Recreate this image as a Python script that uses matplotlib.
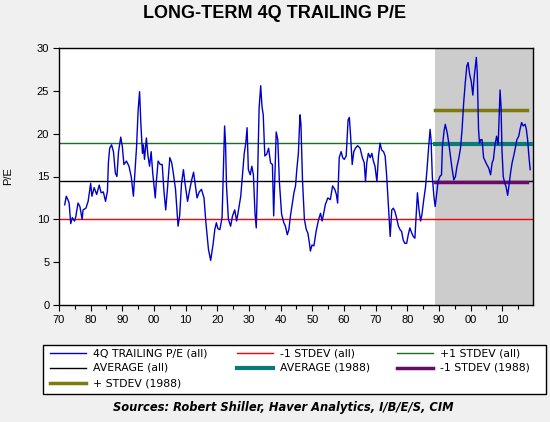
import matplotlib
matplotlib.use("Agg")
import matplotlib.pyplot as plt
from matplotlib.lines import Line2D
from matplotlib.patches import Rectangle
from matplotlib.ticker import MultipleLocator, FuncFormatter

plt.rcParams['font.family'] = ['Liberation Sans', 'DejaVu Sans']

# 4Q trailing P/E
years = [1871.8, 1872.3, 1872.8, 1873.2, 1873.7, 1874.2, 1874.9, 1875.3, 1876.0, 1876.6,
         1877.3, 1877.6, 1878.5, 1879.2, 1880.0, 1880.4, 1881.1, 1881.9, 1882.7, 1883.3,
         1884.0, 1884.7, 1885.3, 1885.6, 1886.0, 1886.6, 1887.2, 1887.8, 1888.3, 1888.8,
         1889.5, 1890.0, 1890.5, 1891.3, 1892.1, 1892.8, 1893.5, 1893.9, 1894.5, 1895.0,
         1895.45, 1895.85, 1896.35, 1896.65, 1897.0, 1897.6, 1898.1, 1898.6, 1899.1, 1899.6,
         1900.4, 1900.7, 1901.3, 1902.0, 1902.6, 1903.1, 1903.7, 1904.3, 1905.0, 1905.6,
         1906.1, 1906.8, 1907.6, 1908.1, 1908.7, 1909.3, 1909.8, 1910.6, 1911.3, 1911.9,
         1912.5, 1913.0, 1913.6, 1914.3, 1915.0, 1915.8, 1916.4, 1917.2, 1917.9, 1918.7,
         1919.2, 1919.7, 1920.2, 1920.8, 1921.5, 1922.3, 1922.6, 1922.9, 1923.5, 1924.2,
         1924.8, 1925.5, 1926.1, 1926.7, 1927.4, 1928.0, 1928.5, 1929.0, 1929.4, 1929.8,
         1930.4, 1930.9, 1931.4, 1931.9, 1932.3, 1932.7, 1933.2, 1933.7, 1934.1, 1934.5,
         1935.0, 1935.6, 1936.2, 1936.8, 1937.4, 1937.8, 1938.6, 1939.1, 1939.6,
         1940.3, 1941.0, 1941.5, 1942.1, 1942.6, 1943.1, 1943.7, 1944.2, 1944.7, 1945.1,
         1945.6, 1946.1, 1946.4, 1946.9, 1947.5, 1948.1, 1948.6, 1949.1, 1949.4, 1949.9,
         1950.5, 1951.2, 1952.0, 1952.6, 1953.1, 1953.6, 1954.1, 1954.9, 1955.7, 1956.4,
         1957.1, 1957.6, 1958.0, 1958.5, 1959.1, 1959.6, 1960.1, 1960.7, 1961.3, 1961.7,
         1962.1, 1962.6, 1963.1, 1963.6, 1964.3, 1965.1, 1965.8, 1966.4, 1966.8, 1967.2,
         1967.7, 1968.3, 1968.8, 1969.3, 1969.8, 1970.4, 1970.9, 1971.4, 1971.9, 1972.5,
         1973.0, 1973.5, 1974.0, 1974.6, 1975.1, 1975.6, 1976.1, 1976.6, 1977.2, 1977.7,
         1978.2, 1978.7, 1979.2, 1979.8, 1980.3, 1980.8, 1981.4, 1981.9, 1982.4, 1982.9,
         1983.2, 1983.7, 1984.2, 1984.6, 1985.2, 1985.8, 1986.3, 1986.8, 1987.2, 1987.5,
         1987.9, 1988.4, 1988.8, 1989.2, 1989.7, 1990.3, 1990.8, 1991.1, 1991.6, 1992.0,
         1992.6, 1993.1, 1993.6, 1994.1, 1994.7, 1995.2, 1995.7, 1996.2, 1996.8, 1997.3,
         1997.8, 1998.3, 1998.8, 1999.2, 1999.7, 2000.2, 2000.7, 2001.1, 2001.8, 2002.1,
         2002.5, 2002.8, 2003.2, 2003.6, 2004.1, 2004.6, 2005.1, 2005.7, 2006.3, 2006.8,
         2007.2, 2007.7, 2008.2, 2008.7, 2009.3, 2009.6, 2009.9, 2010.3, 2010.8, 2011.2,
         2011.7, 2012.1, 2012.6, 2013.1, 2013.6, 2014.1, 2014.6, 2015.2, 2015.6, 2016.1,
         2016.6, 2017.2, 2017.6, 2018.0, 2018.4, 2018.8]
pe = [11.7, 12.7, 12.3, 11.9, 9.5, 10.2, 9.8, 10.3, 11.9, 11.5,
      10.0, 11.1, 11.3, 12.1, 14.2, 12.7, 13.7, 12.9, 14.0, 13.1,
      13.2, 12.1, 13.3, 16.6, 18.3, 18.7, 17.9, 15.4, 15.0, 17.9,
      19.6, 18.5, 16.4, 16.8, 16.2, 15.0, 12.7, 15.0, 18.5, 22.8,
      24.9, 21.2, 17.7, 18.7, 17.0, 19.5, 17.4, 16.2, 17.9, 15.4,
      12.5, 14.2, 16.8, 16.4, 16.4, 13.5, 11.1, 13.8, 17.2, 16.6,
      15.4, 13.5, 9.2, 10.4, 14.2, 15.8, 14.2, 12.1, 13.5, 14.6,
      15.5, 14.1, 12.5, 13.2, 13.5, 12.5, 9.6, 6.5, 5.2, 7.2,
      8.8, 9.6, 8.9, 8.8, 10.2, 20.9, 18.9, 13.9, 10.0, 9.2,
      10.4, 11.1, 9.8, 11.1, 12.7, 15.4, 17.7, 18.9, 20.7, 15.8,
      15.2, 16.2, 15.2, 10.7, 9.0, 14.6, 23.0, 25.6, 23.2, 22.2,
      17.4, 17.6, 18.3, 16.6, 16.4, 10.4, 20.2, 19.3, 14.4,
      10.6, 9.6, 9.2, 8.2, 8.8, 10.4, 11.9, 13.1, 13.9, 15.8,
      17.7, 22.2, 21.2, 14.6, 10.0, 8.8, 8.4, 7.2, 6.3, 7.0,
      6.9, 8.6, 10.0, 10.7, 9.8, 10.7, 11.7, 12.5, 12.3, 13.9,
      13.5, 12.9, 11.9, 17.2, 17.9, 17.2, 17.0, 17.4, 21.6, 21.9,
      19.7, 16.4, 17.9, 18.3, 18.6, 18.3, 17.2, 16.6, 14.4, 16.6,
      17.7, 17.2, 17.7, 16.8, 16.2, 14.4, 17.4, 18.9, 18.1, 17.9,
      17.4, 15.0, 11.9, 8.0, 11.1, 11.3, 10.9, 10.2, 9.2, 8.8,
      8.6, 7.6, 7.2, 7.2, 8.2, 9.0, 8.4, 8.0, 7.8, 11.1,
      13.1, 11.1, 9.8, 10.5, 12.3, 13.9, 16.2, 18.7, 20.5, 19.3,
      15.0, 12.7, 11.5, 12.7, 14.4, 15.0, 15.2, 18.5, 20.3, 21.1,
      20.1, 18.9, 17.4, 16.0, 14.6, 15.0, 16.2, 17.0, 18.3, 20.5,
      23.6, 25.9, 27.9, 28.3, 26.9, 26.1, 24.5, 26.5, 28.9, 27.1,
      20.5, 18.9, 19.3, 19.3, 17.2, 16.8, 16.4, 16.0, 15.2, 16.6,
      17.0, 18.7, 19.7, 18.7, 25.1, 23.2, 18.1, 15.0, 14.2, 13.8,
      12.8, 13.9, 15.4, 16.6, 17.4, 18.3, 19.3, 19.7, 20.5, 21.3,
      20.9, 21.1, 20.5, 19.3, 17.4, 15.8]

# reference levels
avg_all = 14.45
minus_all = 10.07
plus_all = 18.9
start_1988 = 1988.7
avg_1988 = 18.75
minus_1988 = 14.4
plus_1988 = 22.75
end_1988 = 2017.8
x_start, x_end = 1870, 2019.7

C_PE = '#0000cc'
C_RED = '#ff0000'
C_GREEN = '#1e6e1e'
C_TEAL = '#0a7a78'
C_PURPLE = '#6a0a6a'
C_OLIVE = '#7f7a10'

W, H = 550.0, 422.0
fig = plt.figure(figsize=(5.5, 4.22), dpi=100, facecolor='#f0f0f0')
ax = fig.add_axes([59 / W, 1 - 305 / H, 474 / W, 257 / H])
ax.set_facecolor('white')

ax.axvspan(start_1988, x_end, color='#cccccc', lw=0, zorder=0)

ax.axhline(minus_all, color=C_RED, lw=1, zorder=2)
ax.axhline(plus_all, color=C_GREEN, lw=1, zorder=2)
ax.axhline(avg_all, color='black', lw=1, zorder=2)
ax.plot([start_1988, x_end - 0.4], [avg_1988, avg_1988], color=C_TEAL, lw=3, zorder=3)
ax.plot([start_1988, end_1988], [minus_1988, minus_1988], color=C_PURPLE, lw=2.5, zorder=3)
ax.plot([start_1988, end_1988], [plus_1988, plus_1988], color=C_OLIVE, lw=2.5, zorder=3)
ax.plot(years, pe, color=C_PE, lw=1, zorder=4)

ax.set_xlim(x_start, x_end)
ax.set_ylim(0, 30)
ax.xaxis.set_major_locator(MultipleLocator(10))
ax.xaxis.set_minor_locator(MultipleLocator(5))
ax.xaxis.set_major_formatter(FuncFormatter(lambda v, p: "%02d" % (int(round(v)) % 100)))
ax.yaxis.set_major_locator(MultipleLocator(5))
ax.tick_params(axis='both', which='both', direction='out', labelsize=8, width=0.8)
ax.tick_params(axis='x', which='major', length=4, pad=3)
ax.tick_params(axis='x', which='minor', length=3)
ax.tick_params(axis='y', length=4, pad=3)
for s in ax.spines.values():
    s.set_linewidth(1)
ax.set_ylabel("P/E", fontsize=8, labelpad=17)

fig.text(0.5, 1 - 13 / H, "LONG-TERM 4Q TRAILING P/E", ha='center', va='center',
         fontsize=13, fontweight='bold')

# legend box drawn by hand so the columns sit where the reference has them
fig.patches.append(Rectangle((43 / W, 1 - 394 / H), 503 / W, 49 / H, transform=fig.transFigure,
                             facecolor='white', edgecolor='black', lw=1))
legend_items = [
    ("4Q TRAILING P/E (all)", C_PE, 1, 50, 353),
    ("-1 STDEV (all)", C_RED, 1, 237, 353),
    ("+1 STDEV (all)", C_GREEN, 1, 397, 353),
    ("AVERAGE (all)", 'black', 1, 50, 368),
    ("AVERAGE (1988)", C_TEAL, 3, 237, 368),
    ("-1 STDEV (1988)", C_PURPLE, 2.5, 397, 368),
    ("+ STDEV (1988)", C_OLIVE, 2.5, 50, 383),
]
for label, color, lw, x0, y0 in legend_items:
    fig.lines.append(Line2D([x0 / W, (x0 + 36) / W], [1 - y0 / H, 1 - y0 / H],
                            transform=fig.transFigure, color=color, lw=lw))
    fig.text((x0 + 43) / W, 1 - y0 / H, label, ha='left', va='center',
             fontsize=7.8, family='DejaVu Sans')

fig.text(283 / W, 1 - 408 / H, "Sources: Robert Shiller, Haver Analytics, I/B/E/S, CIM",
         ha='center', va='center', fontsize=8.3, fontweight='bold', style='italic',
         family='DejaVu Sans')

fig.savefig("out.png", dpi=100, facecolor=fig.get_facecolor())
